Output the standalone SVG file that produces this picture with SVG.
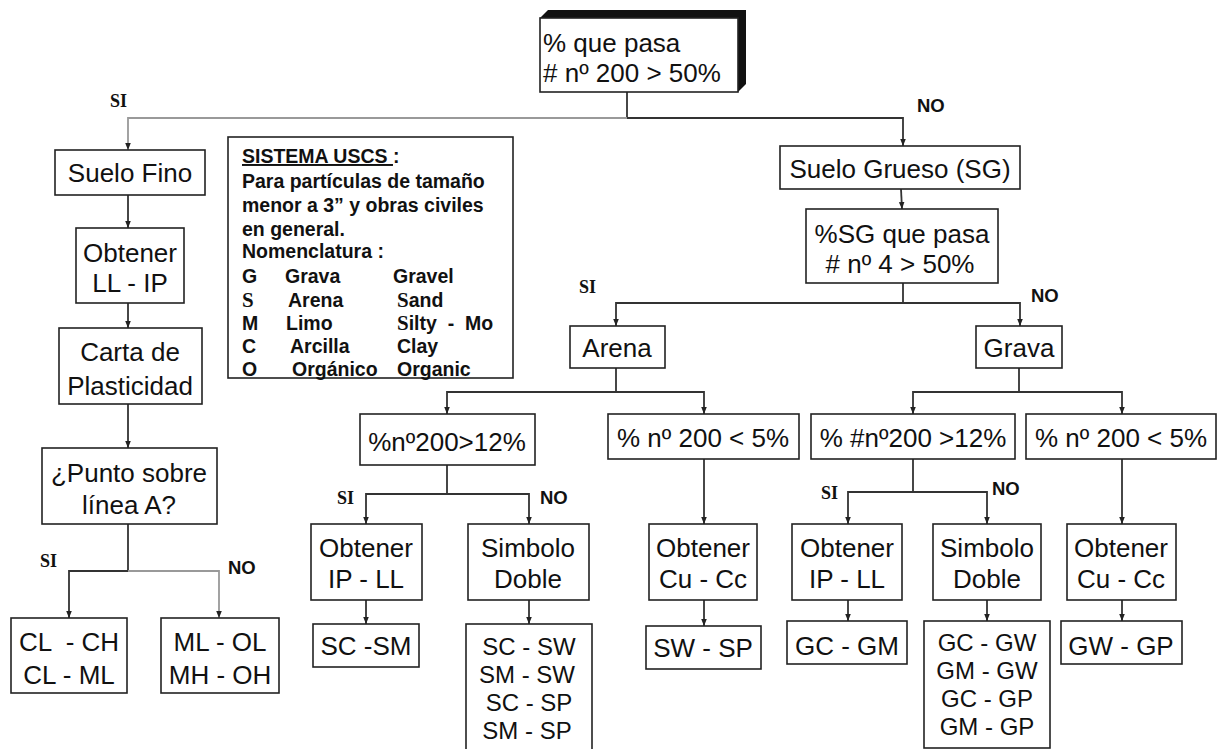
<svg xmlns="http://www.w3.org/2000/svg" width="1224" height="749" viewBox="0 0 1224 749">
<style>
.b{fill:#fff;stroke:#222;stroke-width:1.6}
.t{font-family:"Liberation Sans",Arial,sans-serif;font-size:26px;fill:#111;text-anchor:middle}
.t4{font-size:24px}
.lg{font-family:"Liberation Sans",Arial,sans-serif;font-size:19.5px;font-weight:bold;fill:#111}
.sf{font-family:"Liberation Serif","Times New Roman",serif;font-size:21px;font-weight:bold}
.si{font-family:"Liberation Serif","Times New Roman",serif;font-size:18px;font-weight:bold;fill:#111}
.no{font-family:"Liberation Sans",Arial,sans-serif;font-size:18.5px;font-weight:bold;fill:#111}
.c{fill:none;stroke:#333;stroke-width:1.8}
.cg{fill:none;stroke:#999;stroke-width:1.8}
</style>
<defs>
<marker id="ah" viewBox="0 0 10 10" refX="10" refY="5" markerWidth="7" markerHeight="7" markerUnits="userSpaceOnUse" orient="auto">
<path d="M0,1 L10,5 L0,9 z" fill="#222"/>
</marker>
</defs>
<rect width="1224" height="749" fill="#fff"/>

<g id="connectors">
<path class="c" d="M627,92 V118"/>
<path class="cg" d="M627,118 H128 V150" marker-end="url(#ah)"/>
<path class="c" d="M627,118 H903 V146" marker-end="url(#ah)"/>
<path class="c" d="M128,195 V228" marker-end="url(#ah)"/>
<path class="c" d="M128,303 V328" marker-end="url(#ah)"/>
<path class="c" d="M128,404 V448" marker-end="url(#ah)"/>
<path class="c" d="M128,524 V571 H69 V618" marker-end="url(#ah)"/>
<path class="cg" d="M128,571 H219 V618" marker-end="url(#ah)"/>
<path class="c" d="M901,189 L902,209" marker-end="url(#ah)"/>
<path class="c" d="M903,283 V303 H616 V326" marker-end="url(#ah)"/>
<path class="c" d="M903,303 H1020 V326" marker-end="url(#ah)"/>
<path class="c" d="M616,368 V392 H447 V414" marker-end="url(#ah)"/>
<path class="c" d="M616,392 H704 V414" marker-end="url(#ah)"/>
<path class="c" d="M1019,368 V392 H913 V414" marker-end="url(#ah)"/>
<path class="c" d="M1019,392 H1122 V414" marker-end="url(#ah)"/>
<path class="c" d="M447,465 V494 H366 V524" marker-end="url(#ah)"/>
<path class="c" d="M447,494 H529 V524" marker-end="url(#ah)"/>
<path class="c" d="M366,600 V624" marker-end="url(#ah)"/>
<path class="c" d="M529,600 V624" marker-end="url(#ah)"/>
<path class="c" d="M704,459 V524" marker-end="url(#ah)"/>
<path class="c" d="M704,600 V626" marker-end="url(#ah)"/>
<path class="c" d="M913,459 V492 H848 V524" marker-end="url(#ah)"/>
<path class="c" d="M913,492 H987 V524" marker-end="url(#ah)"/>
<path class="c" d="M1122,459 V524" marker-end="url(#ah)"/>
<path class="c" d="M848,600 V621" marker-end="url(#ah)"/>
<path class="c" d="M987,600 V621" marker-end="url(#ah)"/>
<path class="c" d="M1122,600 V621" marker-end="url(#ah)"/>
</g>

<g id="labels">
<text class="si" x="110" y="107">SI</text>
<text class="no" x="917" y="112">NO</text>
<text class="si" x="40" y="567">SI</text>
<text class="no" x="228" y="574">NO</text>
<text class="si" x="579" y="293">SI</text>
<text class="no" x="1031" y="302">NO</text>
<text class="si" x="337" y="504">SI</text>
<text class="no" x="540" y="504">NO</text>
<text class="si" x="821" y="499">SI</text>
<text class="no" x="992" y="495">NO</text>
</g>

<g id="n-root">
<polygon points="540,18 548,10 746,10 746,84 738,92 738,18" fill="#111"/>
<rect class="b" x="540" y="18" width="198" height="74"/>
<text class="t" x="543" y="52" style="text-anchor:start">% que pasa</text>
<text class="t" x="543" y="82" style="text-anchor:start"># nº 200 &gt; 50%</text>
</g>

<g id="n-legend">
<rect class="b" x="228" y="137" width="285" height="241"/>
<text class="lg" x="242" y="163"><tspan text-decoration="underline">SISTEMA USCS </tspan>:</text>
<text class="lg" x="242" y="188">Para partículas de tamaño</text>
<text class="lg" x="242" y="212">menor a 3” y obras civiles</text>
<text class="lg" x="242" y="236">en general.</text>
<text class="lg" x="242" y="258">Nomenclatura :</text>
<text class="lg" x="242" y="283">G</text><text class="lg" x="285" y="283">Grava</text><text class="lg" x="393" y="283">Gravel</text>
<text class="lg sf" x="242" y="307">S</text><text class="lg" x="288" y="307">Arena</text><text class="lg" x="397" y="307"><tspan class="sf">S</tspan>and</text>
<text class="lg" x="242" y="330">M</text><text class="lg" x="286" y="330">Limo</text><text class="lg" x="397" y="330" xml:space="preserve"><tspan class="sf">S</tspan>ilty  -  Mo</text>
<text class="lg" x="242" y="353">C</text><text class="lg" x="290" y="353">Arcilla</text><text class="lg" x="397" y="353">Clay</text>
<text class="lg" x="242" y="376">O</text><text class="lg" x="292" y="376">Orgánico</text><text class="lg" x="397" y="376">Organic</text>
</g>

<g id="n-suelo-fino">
<rect class="b" x="55" y="150" width="150" height="45"/>
<text class="t" x="130" y="182">Suelo Fino</text>
</g>
<g id="n-ll-ip">
<rect class="b" x="76" y="228" width="108" height="75"/>
<text class="t" x="130" y="262">Obtener</text>
<text class="t" x="130" y="292">LL - IP</text>
</g>
<g id="n-carta">
<rect class="b" x="59" y="328" width="143" height="76"/>
<text class="t" x="130" y="361">Carta de</text>
<text class="t" x="130" y="395">Plasticidad</text>
</g>
<g id="n-punto">
<rect class="b" x="42" y="448" width="175" height="76"/>
<text class="t" x="129" y="482">¿Punto sobre</text>
<text class="t" x="129" y="514">línea A?</text>
</g>
<g id="n-cl">
<rect class="b" x="11" y="618" width="116" height="75"/>
<text class="t" x="69" y="651" xml:space="preserve">CL  - CH</text>
<text class="t" x="69" y="684">CL - ML</text>
</g>
<g id="n-ml">
<rect class="b" x="161" y="618" width="118" height="75"/>
<text class="t" x="220" y="651">ML - OL</text>
<text class="t" x="220" y="684">MH - OH</text>
</g>

<g id="n-suelo-grueso">
<rect class="b" x="780" y="146" width="240" height="43"/>
<text class="t" x="900" y="178">Suelo Grueso (SG)</text>
</g>
<g id="n-sg">
<rect class="b" x="806" y="209" width="192" height="74"/>
<text class="t" x="902" y="243">%SG que pasa</text>
<text class="t" x="900" y="273"># nº 4 &gt; 50%</text>
</g>
<g id="n-arena">
<rect class="b" x="570" y="326" width="95" height="42"/>
<text class="t" x="617" y="357">Arena</text>
</g>
<g id="n-grava">
<rect class="b" x="976" y="326" width="86" height="42"/>
<text class="t" x="1019" y="357">Grava</text>
</g>

<g id="n-s12">
<rect class="b" x="360" y="414" width="175" height="51"/>
<text class="t" x="447" y="451">%nº200&gt;12%</text>
</g>
<g id="n-s5">
<rect class="b" x="608" y="414" width="191" height="45"/>
<text class="t" x="703" y="447">% nº 200 &lt; 5%</text>
</g>
<g id="n-g12">
<rect class="b" x="811" y="414" width="204" height="45"/>
<text class="t" x="913" y="447">% #nº200 &gt;12%</text>
</g>
<g id="n-g5">
<rect class="b" x="1026" y="414" width="190" height="45"/>
<text class="t" x="1121" y="447">% nº 200 &lt; 5%</text>
</g>

<g id="n-s-ipll">
<rect class="b" x="311" y="524" width="111" height="76"/>
<text class="t" x="366" y="557">Obtener</text>
<text class="t" x="366" y="588">IP - LL</text>
</g>
<g id="n-s-doble">
<rect class="b" x="468" y="524" width="121" height="76"/>
<text class="t" x="528" y="557">Simbolo</text>
<text class="t" x="528" y="588">Doble</text>
</g>
<g id="n-s-cucc">
<rect class="b" x="649" y="524" width="108" height="76"/>
<text class="t" x="703" y="557">Obtener</text>
<text class="t" x="703" y="588">Cu - Cc</text>
</g>
<g id="n-g-ipll">
<rect class="b" x="792" y="524" width="110" height="76"/>
<text class="t" x="847" y="557">Obtener</text>
<text class="t" x="847" y="588">IP - LL</text>
</g>
<g id="n-g-doble">
<rect class="b" x="933" y="524" width="108" height="76"/>
<text class="t" x="987" y="557">Simbolo</text>
<text class="t" x="987" y="588">Doble</text>
</g>
<g id="n-g-cucc">
<rect class="b" x="1067" y="524" width="109" height="76"/>
<text class="t" x="1121" y="557">Obtener</text>
<text class="t" x="1121" y="588">Cu - Cc</text>
</g>

<g id="n-scsm">
<rect class="b" x="313" y="624" width="106" height="43"/>
<text class="t" x="366" y="655">SC -SM</text>
</g>
<g id="n-sdouble">
<rect class="b" x="466" y="624" width="126" height="130"/>
<text class="t t4" x="529" y="655">SC - SW</text>
<text class="t t4" x="527" y="683">SM - SW</text>
<text class="t t4" x="529" y="711">SC - SP</text>
<text class="t t4" x="527" y="739">SM - SP</text>
</g>
<g id="n-swsp">
<rect class="b" x="646" y="626" width="115" height="43"/>
<text class="t" x="703" y="657">SW - SP</text>
</g>
<g id="n-gcgm">
<rect class="b" x="787" y="621" width="120" height="43"/>
<text class="t" x="847" y="655">GC - GM</text>
</g>
<g id="n-gdouble">
<rect class="b" x="924" y="621" width="126" height="127"/>
<text class="t t4" x="987" y="651">GC - GW</text>
<text class="t t4" x="987" y="679">GM - GW</text>
<text class="t t4" x="987" y="707">GC - GP</text>
<text class="t t4" x="987" y="735">GM - GP</text>
</g>
<g id="n-gwgp">
<rect class="b" x="1061" y="621" width="121" height="43"/>
<text class="t" x="1121" y="655">GW - GP</text>
</g>
</svg>
